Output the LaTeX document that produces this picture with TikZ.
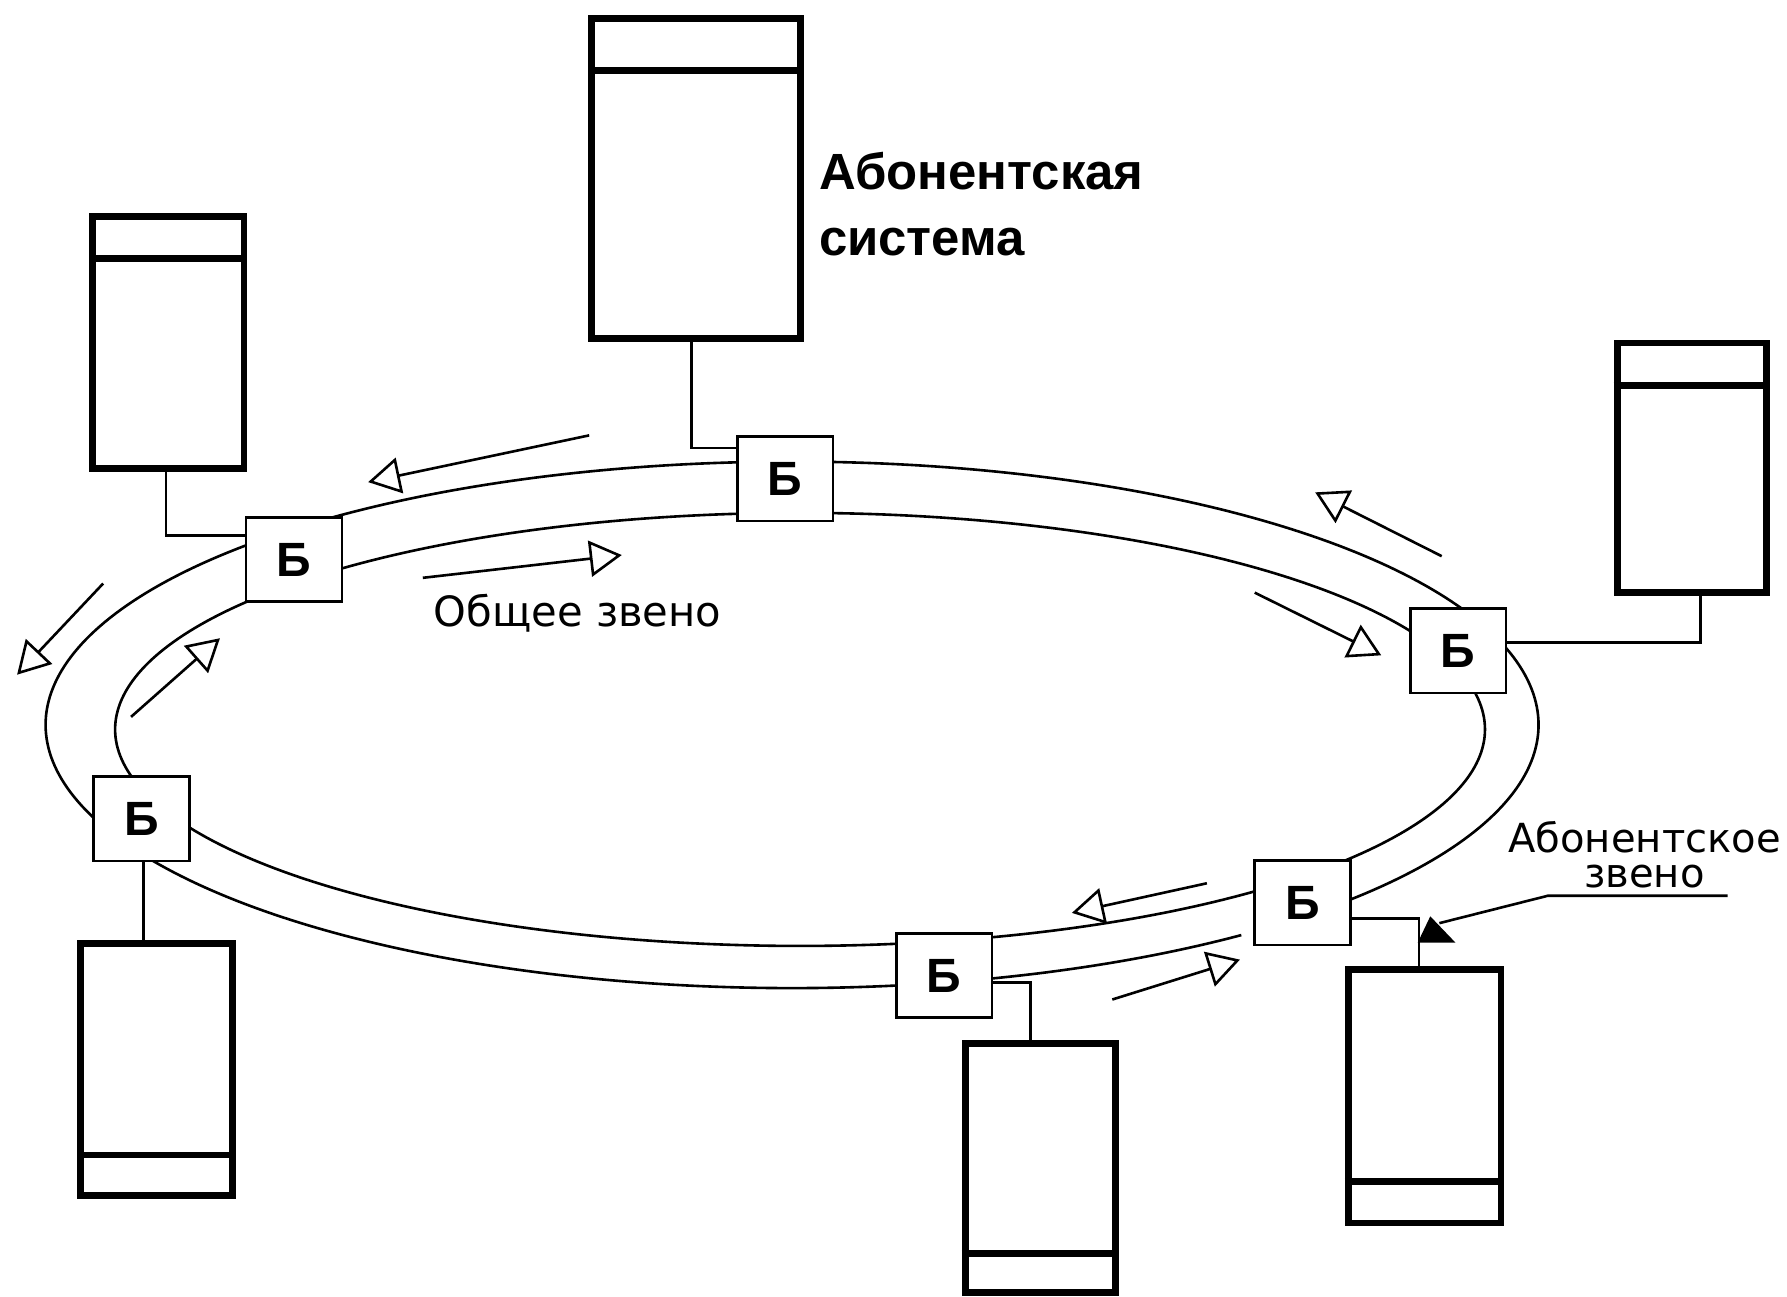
\documentclass[tikz,border=0pt]{standalone}
\usepackage{fontspec}
\setmainfont{DejaVu Sans}
\newfontfamily\libsans{Liberation Sans}
\usetikzlibrary{arrows.meta}
\begin{document}
\begin{tikzpicture}[x=0.01cm,y=-0.01cm,
  thinline/.style={line width=0.65pt},
  sysbox/.style={draw, line width=1.7pt, inner sep=0pt},
  sysline/.style={line width=1.7pt},
  bbox/.style={draw, fill=white, line width=0.65pt, minimum width=0.84cm, minimum height=0.74cm, inner sep=0pt, font=\libsans\bfseries\fontsize{12}{12}\selectfont},
  flow/.style={line width=0.65pt, -{Triangle[open, length=8pt, width=9pt]}},
  lab/.style={inner sep=0pt, font=\fontsize{10}{8.8}\selectfont}]

\useasboundingbox (0,0) rectangle (1568,1138);

% ring (two ellipses)
\draw[thinline] plot[domain=0:360, samples=361] ({702+601*cos(\x)},{640+190*sin(\x)});
\draw[thinline] plot[domain=53:405, samples=353] ({695+655*cos(\x)},{636+231*sin(\x)});

% subscriber systems
\node[sysbox, minimum width=1.83cm, minimum height=2.81cm] (sysT)  at (610.5,156.5) {};
\node[sysbox, minimum width=1.325cm, minimum height=2.21cm] (sysTL) at (147.75,300.5) {};
\node[sysbox, minimum width=1.31cm, minimum height=2.19cm] (sysR)  at (1484.5,410.5) {};
\node[sysbox, minimum width=1.33cm, minimum height=2.21cm] (sysBL) at (137.5,938.5) {};
\node[sysbox, minimum width=1.32cm, minimum height=2.18cm] (sysBM) at (913,1025) {};
\node[sysbox, minimum width=1.34cm, minimum height=2.22cm] (sysBR) at (1250,962) {};

\draw[sysline] (sysT.west |- 0,61.5) -- (sysT.east |- 0,61.5);
\draw[sysline] (sysTL.west |- 0,227) -- (sysTL.east |- 0,227);
\draw[sysline] (sysR.west |- 0,338) -- (sysR.east |- 0,338);
\draw[sysline] (sysBL.west |- 0,1013.4) -- (sysBL.east |- 0,1013.4);
\draw[sysline] (sysBM.west |- 0,1099.7) -- (sysBM.east |- 0,1099.7);
\draw[sysline] (sysBR.west |- 0,1037) -- (sysBR.east |- 0,1037);

% ring adapters
\node[bbox] (B1) at (689,420) {Б};
\node[bbox] (B2) at (258,491) {Б};
\node[bbox] (B3) at (1279.5,571) {Б};
\node[bbox] (B4) at (124,718.5) {Б};
\node[bbox] (B5) at (828.5,856) {Б};
\node[bbox] (B6) at (1143,792) {Б};

% subscriber links
\coordinate (kT) at (607,393);
\draw[thinline] (sysT.south -| kT) |- (B1.west |- kT);
\coordinate (kTL) at (145.6,470);
\draw[thinline] (sysTL.south -| kTL) |- (B2.west |- kTL);
\coordinate (kR) at (1492,564);
\draw[thinline] (sysR.south -| kR) |- (B3.east |- kR);
\coordinate (kBL) at (126,756);
\draw[thinline] (B4.south -| kBL) -- (sysBL.north -| kBL);
\coordinate (kBM) at (904,862);
\draw[thinline] (B5.east |- kBM) -| (sysBM.north -| kBM);
\coordinate (kBR) at (1245,806);
\draw[thinline] (B6.east |- kBR) -| (sysBR.north -| kBR);

% direction arrows
\coordinate (f1s) at (517,382);   \coordinate (f1e) at (323,423);
\coordinate (f2s) at (371,507);   \coordinate (f2e) at (545.6,487);
\coordinate (f3s) at (1265,488);  \coordinate (f3e) at (1154,432);
\coordinate (f4s) at (1101,520);  \coordinate (f4e) at (1212,575);
\coordinate (f5s) at (1059,775);  \coordinate (f5e) at (940.5,801);
\coordinate (f6s) at (976,877);   \coordinate (f6e) at (1088,842);
\coordinate (f7s) at (90.5,512);  \coordinate (f7e) at (15,592);
\coordinate (f8s) at (115,629);   \coordinate (f8e) at (193,560);
\foreach \i in {1,...,8} {\draw[flow] (f\i s) -- (f\i e);}

% labels
\node[inner sep=0pt, anchor=north west, align=left,
      font=\libsans\bfseries\fontsize{12.7}{16.3}\selectfont] (abs) at (718,133) {Абонентская\\система};
\node[lab, anchor=base west, font=\fontsize{10.4}{10.4}\selectfont] (obs) at (380,550) {Общее звено};
\node[lab, anchor=north, align=center] (subl) at (1443,720) {Абонентское\\звено};

\coordinate (lp1) at (1516,786);
\coordinate (lp2) at (1358,786);
\coordinate (lp3) at (1263,810);
\draw[thinline] (lp1) -- (lp2) -- (lp3);
\fill (1255,804) -- (1244,827) -- (1277,827) -- cycle;
\end{tikzpicture}
\end{document}
